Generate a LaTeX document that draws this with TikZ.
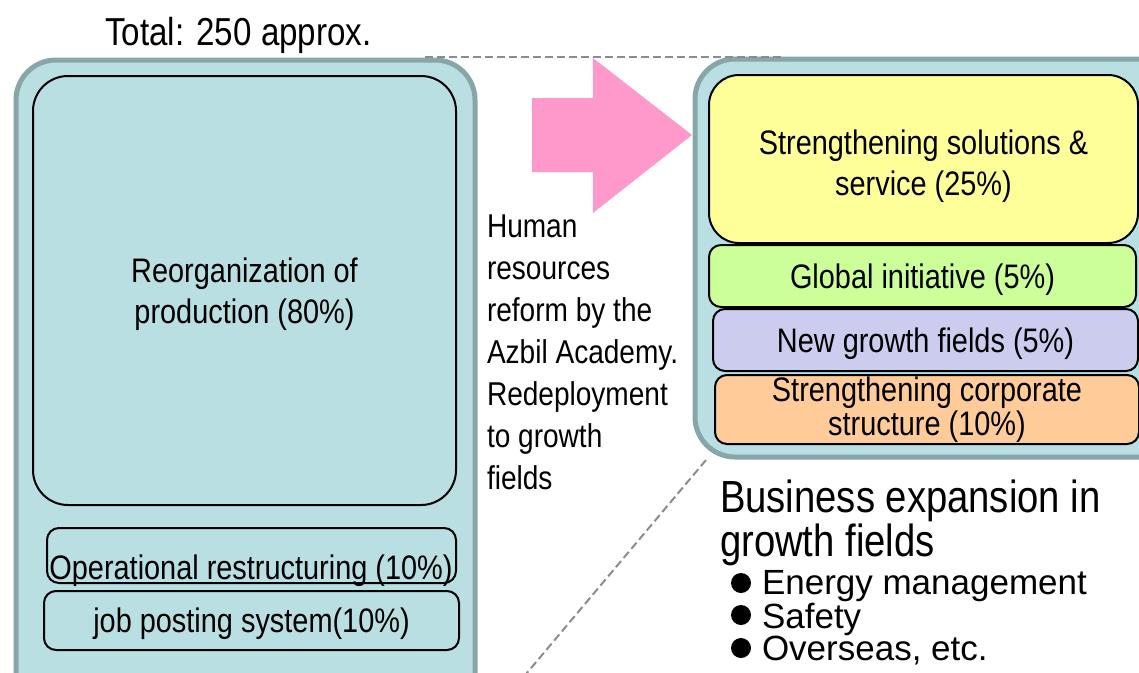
\documentclass[tikz,border=0pt]{standalone}
\usepackage{fontspec}
\setmainfont{Liberation Sans}
\newfontfamily\narrow[FakeStretch=0.85]{Liberation Sans}
\definecolor{panelfill}{HTML}{B9DFE2}
\definecolor{panelrim}{HTML}{88A6A7}
\definecolor{arrowpink}{HTML}{FF99CC}
\definecolor{solyellow}{HTML}{FFFF99}
\definecolor{globgreen}{HTML}{CCFF99}
\definecolor{newlav}{HTML}{CCCCEE}
\definecolor{corporange}{HTML}{FFCC99}
\definecolor{guide}{HTML}{8C8C8C}
\begin{document}
\begin{tikzpicture}[x=1pt,y=-1pt,
  panel/.style={draw=panelrim, line width=5pt, fill=panelfill, rounded corners=40pt,
    inner sep=0pt, outer sep=0pt, anchor=north west},
  part/.style={draw=black, line width=2pt, rounded corners=12pt, inner sep=0pt,
    outer sep=0pt, anchor=north west, align=center, text depth=0pt,
    font=\narrow\fontsize{34}{41}\selectfont},
  guideline/.style={draw=guide, line width=2pt, dash pattern=on 8pt off 4pt},
  label/.style={inner sep=0pt, outer sep=0pt},
]
\useasboundingbox (0,0) rectangle (1139,672);
\clip (0,0) rectangle (1139,672);

% heading
\node[label, anchor=base west, font=\narrow\fontsize{39}{44}\selectfont]
  (total) at (105,45) {Total: 250 approx.};

% left panel: current allocation
\node[panel, minimum width=459pt, minimum height=700pt] (left) at (16,60) {};
\node[part, rounded corners=35pt, fill=panelfill, minimum width=423pt, minimum height=429pt,
  text depth=-1pt]
  (prod) at (33,76) {Reorganization of\\production (80\%)};
\node[part, fill=panelfill, minimum width=409pt, minimum height=55pt] (ops) at (47,528) {};
\node[label, font=\narrow\fontsize{34}{41}\selectfont] (opstext) at (251,571)
  {Operational restructuring (10\%)};
\node[part, fill=panelfill, minimum width=415pt, minimum height=59pt]
  (jobs) at (44,591) {job posting system(10\%)};

% right panel: growth fields
\node[panel, minimum width=600pt, minimum height=398pt] (right) at (695,59) {};
\node[part, rounded corners=30pt, fill=solyellow, minimum width=429pt, minimum height=168pt]
  (sol) at (709,75) {\rule{0pt}{32pt}Strengthening solutions \&\\service (25\%)};
\node[part, fill=globgreen, minimum width=427pt, minimum height=62pt]
  (glob) at (709,245) {Global initiative (5\%)};
\node[part, fill=newlav, minimum width=425pt, minimum height=62pt]
  (newf) at (713,309) {New growth fields (5\%)};
\node[part, fill=corporange, minimum width=424pt, minimum height=69pt, text depth=6pt,
  font=\narrow\fontsize{34}{34}\selectfont]
  (corp) at (715,375) {Strengthening corporate\\structure (10\%)};

% transfer arrow
\fill[arrowpink] (532,98) -- (593,98) -- (593,58) -- (692,135) -- (593,213)
  -- (593,172) -- (532,172) -- cycle;

% explanatory text
\node[label, anchor=west, align=left, font=\narrow\fontsize{33}{42}\selectfont]
  (reform) at (487,352) {Human\\resources\\reform by the\\Azbil Academy.\\Redeployment\\to growth\\fields};

\node[label, anchor=west, align=left, font=\narrow\fontsize{45}{44}\selectfont]
  (biz) at (720,523) {Business expansion in\\growth fields};

\node[label, anchor=west, align=left, font=\fontsize{35}{32.5}\selectfont]
  (fields) at (762,618) {Energy management\\Safety\\Overseas, etc.};
\foreach \yy in {583,615,648} \fill (741,\yy) circle (10pt);

% zoom guide lines
\coordinate (gA) at (425,57);
\coordinate (gB) at (785,57);
\coordinate (gC) at (706,460);
\coordinate (gD) at (521,680);
\draw[guideline] (gA) -- (gB);
\draw[guideline] (gC) -- (gD);
\end{tikzpicture}
\end{document}
